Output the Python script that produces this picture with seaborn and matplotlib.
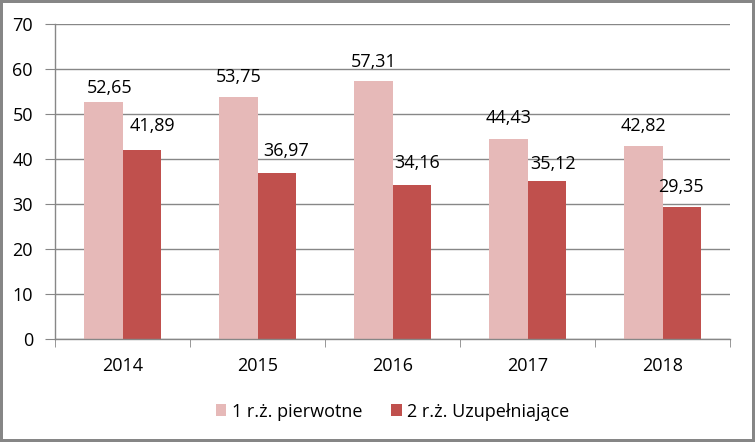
import matplotlib
matplotlib.use("Agg")
import matplotlib.pyplot as plt
import seaborn as sns
import pandas as pd

years = ["2014", "2015", "2016", "2017", "2018"]
series_names = ["1 r.ż. pierwotne", "2 r.ż. Uzupełniające"]
primary = [52.65, 53.75, 57.31, 44.43, 42.82]
supplementary = [41.89, 36.97, 34.16, 35.12, 29.35]
colors = ["#E6B9B8", "#C0504D"]

# label placement tweaks (pixels: horizontal shift, baseline gap above bar)
label_dx = [[6, 0, 0, 0, 0], [11, 9.5, 5.5, 6.5, -1]]
label_dy = [[9, 15, 14, 16, 15], [19, 17, 17, 12, 15]]

df = pd.DataFrame({
    "year": years * 2,
    "value": primary + supplementary,
    "series": [series_names[0]] * 5 + [series_names[1]] * 5,
})

sns.set_style("white")
plt.rcParams["font.family"] = ["Open Sans", "DejaVu Sans"]
plt.rcParams["text.color"] = "black"
plt.rcParams["xtick.color"] = "black"
plt.rcParams["ytick.color"] = "black"

fig = plt.figure(figsize=(7.55, 4.42), dpi=100)
fig.patch.set_edgecolor("#868686")
fig.patch.set_linewidth(3)
ax = fig.add_axes([0.073, 0.233, 0.894, 0.713])

sns.barplot(data=df, x="year", y="value", hue="series", palette=colors,
            width=0.57, gap=0, saturation=1, ax=ax, edgecolor="none")

ax.set_ylim(0, 70)
ax.set_yticks(range(0, 71, 10))
ax.set_xlim(-0.5, 4.5)
ax.set_xlabel("")
ax.set_ylabel("")
ax.yaxis.grid(True, color="#878787", linewidth=1)
ax.set_axisbelow(True)
for s in ["top", "right"]:
    ax.spines[s].set_visible(False)
for s in ["left", "bottom"]:
    ax.spines[s].set_color("#878787")
    ax.spines[s].set_linewidth(1)

ax.tick_params(axis="y", length=7, color="#878787", labelcolor="black",
               labelsize=13, pad=9, left=True)
ax.set_xticks(range(5))
ax.set_xticklabels(years)
ax.tick_params(axis="x", which="major", length=0, labelsize=13, pad=13,
               labelcolor="black")
ax.set_xticks([i - 0.5 for i in range(6)], minor=True)
ax.tick_params(axis="x", which="minor", length=6, color="#878787", bottom=True)

for ci, (cont, vals) in enumerate(zip(ax.containers, [primary, supplementary])):
    for bi, (patch, v) in enumerate(zip(cont.patches, vals)):
        x = patch.get_x() + patch.get_width() / 2
        y = patch.get_height()
        ax.annotate(f"{v:.2f}".replace(".", ","), xy=(x, y),
                    xytext=(label_dx[ci][bi], label_dy[ci][bi]),
                    textcoords="offset pixels", ha="center", va="baseline",
                    fontsize=13, color="black")

leg = ax.legend(loc="upper center", bbox_to_anchor=(0.5, -0.15), ncol=2,
                frameon=False, fontsize=13, handlelength=0.6, handleheight=0.6,
                handletextpad=0.3, columnspacing=1.6)

fig.savefig("out.png", dpi=100, edgecolor=fig.get_edgecolor())
